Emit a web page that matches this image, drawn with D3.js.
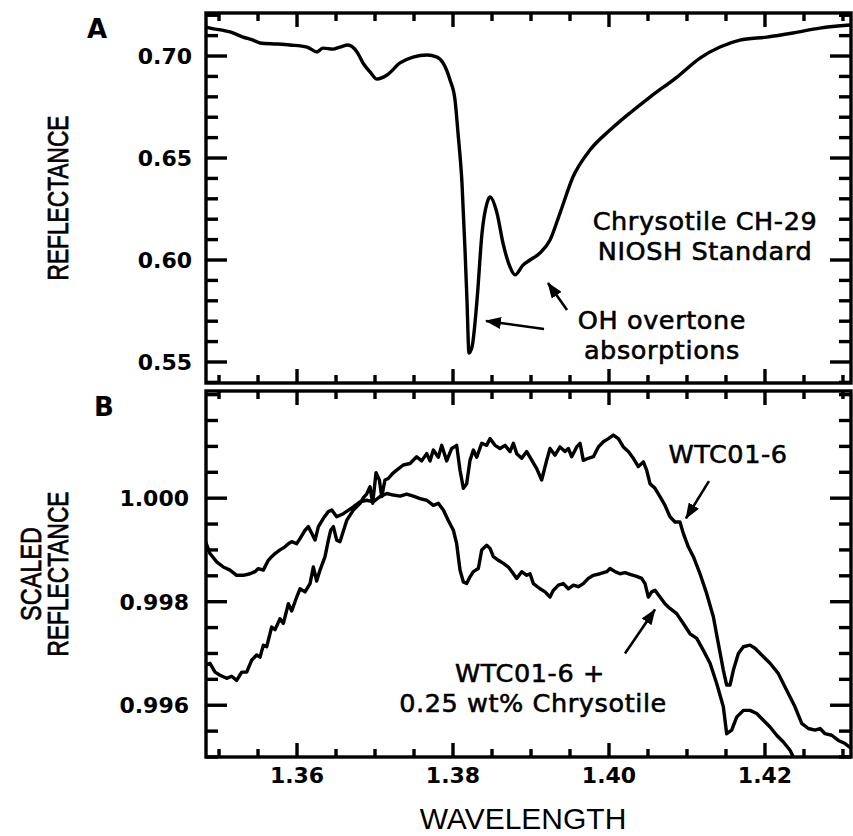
<!DOCTYPE html>
<html><head><meta charset="utf-8">
<script src="https://cdn.jsdelivr.net/npm/d3@7"></script>
<style>body{margin:0;background:#fff}</style>
</head><body>
<svg id="c" width="853" height="836"></svg>
<script>
// ---------- DATA ----------
// Panel A: Chrysotile CH-29 NIOSH standard reflectance [wavelength (µm), reflectance]
const chrysotileSpectrum = [
  [1.34833,0.7142],[1.34885,0.7137],[1.35141,0.7118],[1.35308,0.7093],[1.35436,0.7078],
  [1.35526,0.7064],[1.35744,0.7059],[1.35910,0.7054],[1.36128,0.7044],[1.36256,0.7020],
  [1.36333,0.7039],[1.36462,0.7034],[1.36551,0.7044],[1.36654,0.7054],[1.36769,0.7020],
  [1.36846,0.6966],[1.36936,0.6922],[1.37026,0.6887],[1.37154,0.6907],[1.37321,0.6966],
  [1.37487,0.6995],[1.37667,0.7005],[1.37795,0.6995],[1.37872,0.6966],[1.37962,0.6882],
  [1.38026,0.6784],[1.38064,0.6623],[1.38115,0.6378],[1.38154,0.6049],[1.38179,0.5804],
  [1.38205,0.5544],[1.38244,0.5574],[1.38308,0.5804],[1.38372,0.6132],[1.38436,0.6279],
  [1.38474,0.6309],[1.38564,0.6230],[1.38641,0.6083],[1.38731,0.5966],[1.38795,0.5927],
  [1.38897,0.5975],[1.38987,0.6000],[1.39115,0.6034],[1.39244,0.6098],[1.39372,0.6230],
  [1.39538,0.6407],[1.39756,0.6539],[1.40013,0.6637],[1.40269,0.6721],[1.40526,0.6799],
  [1.40872,0.6897],[1.41167,0.6990],[1.41423,0.7044],[1.41679,0.7078],[1.42026,0.7093],
  [1.42359,0.7113],[1.42705,0.7137],[1.43090,0.7152]
];
// Panel B: WTC01-6 scaled reflectance
const wtcSpectrum = [
  [1.34820,0.99677],[1.34884,0.99681],[1.34949,0.99664],[1.35013,0.99658],[1.35098,0.99652],
  [1.35162,0.99656],[1.35226,0.99648],[1.35291,0.99664],[1.35355,0.99664],[1.35419,0.99687],
  [1.35483,0.99697],[1.35526,0.99693],[1.35568,0.99716],[1.35611,0.99713],[1.35675,0.99751],
  [1.35718,0.99746],[1.35782,0.99767],[1.35825,0.99758],[1.35889,0.99796],[1.35932,0.99782],
  [1.35996,0.99809],[1.36038,0.99825],[1.36103,0.99819],[1.36167,0.99835],[1.36209,0.99867],
  [1.36252,0.99840],[1.36295,0.99861],[1.36359,0.99887],[1.36402,0.99919],[1.36432,0.99938],
  [1.36466,0.99945],[1.36509,0.99919],[1.36551,0.99916],[1.36637,0.99957],[1.36722,0.99977],
  [1.36808,0.99990],[1.36851,1.00001],[1.36893,1.00008],[1.36936,1.00022],[1.36970,0.99990],
  [1.37013,1.00049],[1.37056,1.00035],[1.37086,1.00003],[1.37128,1.00035],[1.37171,1.00038],
  [1.37227,1.00048],[1.37278,1.00054],[1.37363,1.00064],[1.37449,1.00067],[1.37534,1.00080],
  [1.37598,1.00072],[1.37663,1.00086],[1.37705,1.00072],[1.37748,1.00093],[1.37812,1.00079],
  [1.37855,1.00102],[1.37919,1.00072],[1.37983,1.00096],[1.38047,1.00102],[1.38090,1.00054],
  [1.38133,1.00019],[1.38175,1.00028],[1.38218,1.00073],[1.38261,1.00093],[1.38304,1.00079],
  [1.38368,1.00106],[1.38432,1.00102],[1.38475,1.00115],[1.38539,1.00102],[1.38603,1.00096],
  [1.38667,1.00102],[1.38731,1.00090],[1.38774,1.00106],[1.38817,1.00086],[1.38881,1.00077],
  [1.38945,1.00090],[1.39073,1.00057],[1.39137,1.00035],[1.39201,1.00073],[1.39244,1.00096],
  [1.39308,1.00083],[1.39372,1.00099],[1.39436,1.00090],[1.39479,1.00096],[1.39522,1.00080],
  [1.39586,1.00099],[1.39629,1.00106],[1.39671,1.00073],[1.39735,1.00077],[1.39800,1.00080],
  [1.39864,1.00099],[1.39928,1.00109],[1.39992,1.00115],[1.40056,1.00122],[1.40120,1.00115],
  [1.40184,1.00099],[1.40248,1.00090],[1.40312,1.00077],[1.40376,1.00061],[1.40441,1.00070],
  [1.40483,1.00054],[1.40526,1.00028],[1.40590,1.00019],[1.40654,1.00003],[1.40718,0.99986],
  [1.40782,0.99964],[1.40846,0.99954],[1.40910,0.99954],[1.40953,0.99932],[1.41017,0.99906],
  [1.41082,0.99887],[1.41167,0.99854],[1.41252,0.99816],[1.41338,0.99771],[1.41402,0.99719],
  [1.41466,0.99668],[1.41509,0.99639],[1.41552,0.99639],[1.41595,0.99668],[1.41659,0.99700],
  [1.41723,0.99713],[1.41808,0.99716],[1.41872,0.99710],[1.41958,0.99697],[1.42065,0.99681],
  [1.42172,0.99661],[1.42278,0.99629],[1.42385,0.99597],[1.42471,0.99565],[1.42556,0.99555],
  [1.42642,0.99552],[1.42706,0.99555],[1.42770,0.99545],[1.42856,0.99542],[1.42941,0.99532],
  [1.43027,0.99526],[1.43112,0.99516]
];
// Panel B: WTC01-6 + 0.25 wt% Chrysotile scaled reflectance
const mixSpectrum = [
  [1.34820,0.99919],[1.34884,0.99893],[1.34970,0.99877],[1.35055,0.99867],[1.35141,0.99861],
  [1.35226,0.99851],[1.35312,0.99851],[1.35397,0.99854],[1.35461,0.99858],[1.35504,0.99864],
  [1.35568,0.99861],[1.35632,0.99880],[1.35675,0.99887],[1.35718,0.99893],[1.35782,0.99900],
  [1.35846,0.99906],[1.35889,0.99912],[1.35932,0.99916],[1.35996,0.99912],[1.36038,0.99922],
  [1.36103,0.99938],[1.36145,0.99945],[1.36188,0.99932],[1.36231,0.99919],[1.36274,0.99945],
  [1.36338,0.99961],[1.36402,0.99974],[1.36445,0.99977],[1.36509,0.99964],[1.36594,0.99970],
  [1.36722,0.99983],[1.36808,0.99993],[1.36893,0.99996],[1.36979,0.99993],[1.37064,1.00003],
  [1.37150,1.00009],[1.37235,1.00006],[1.37321,1.00004],[1.37406,1.00008],[1.37492,1.00004],
  [1.37577,0.99999],[1.37663,0.99996],[1.37748,0.99986],[1.37812,0.99990],[1.37876,0.99977],
  [1.37940,0.99957],[1.38005,0.99938],[1.38047,0.99912],[1.38090,0.99861],[1.38133,0.99838],
  [1.38175,0.99835],[1.38218,0.99848],[1.38261,0.99858],[1.38325,0.99864],[1.38368,0.99900],
  [1.38432,0.99909],[1.38475,0.99903],[1.38517,0.99887],[1.38582,0.99880],[1.38646,0.99874],
  [1.38710,0.99867],[1.38774,0.99854],[1.38817,0.99845],[1.38881,0.99858],[1.38945,0.99851],
  [1.38988,0.99854],[1.39030,0.99835],[1.39116,0.99825],[1.39180,0.99819],[1.39244,0.99809],
  [1.39287,0.99822],[1.39351,0.99832],[1.39415,0.99835],[1.39479,0.99825],[1.39543,0.99832],
  [1.39607,0.99829],[1.39671,0.99835],[1.39735,0.99845],[1.39800,0.99851],[1.39885,0.99854],
  [1.39971,0.99858],[1.40013,0.99864],[1.40077,0.99858],[1.40141,0.99854],[1.40206,0.99856],
  [1.40270,0.99853],[1.40355,0.99849],[1.40419,0.99845],[1.40462,0.99835],[1.40505,0.99809],
  [1.40548,0.99819],[1.40590,0.99822],[1.40654,0.99809],[1.40718,0.99796],[1.40782,0.99787],
  [1.40868,0.99777],[1.40953,0.99758],[1.41039,0.99738],[1.41125,0.99729],[1.41210,0.99706],
  [1.41296,0.99681],[1.41381,0.99642],[1.41466,0.99597],[1.41509,0.99545],[1.41573,0.99552],
  [1.41637,0.99577],[1.41723,0.99590],[1.41808,0.99590],[1.41894,0.99584],[1.41979,0.99571],
  [1.42065,0.99558],[1.42150,0.99542],[1.42236,0.99529],[1.42321,0.99513],[1.42364,0.99500],
  [1.42450,0.99485]
];
// Tick values
const xMajorTicks = [1.36, 1.38, 1.40, 1.42];
const xMinorTicks = [1.35, 1.355, 1.365, 1.37, 1.375, 1.385, 1.39, 1.395, 1.405, 1.41, 1.415, 1.425, 1.43];
const aMajorTicks = [0.55, 0.60, 0.65, 0.70];
const aMinorTicks = [0.54, 0.56, 0.57, 0.58, 0.59, 0.61, 0.62, 0.63, 0.64, 0.66, 0.67, 0.68, 0.69, 0.71, 0.72];
const bMajorTicks = [0.996, 0.998, 1.000];
const bMinorTicks = [0.995, 0.9955, 0.9965, 0.997, 0.9975, 0.9985, 0.999, 0.9995, 1.0005, 1.001, 1.0015, 1.002];

// ---------- LAYOUT ----------
const left = 206, right = 851;
const aTop = 13, aBottom = 383, bTop = 391, bBottom = 757;
const svg = d3.select("#c");

const x = d3.scaleLinear().domain([1.34833, 1.43103]).range([left, right]);
const yA = d3.scaleLinear().domain([0.5397, 0.7211]).range([aBottom, aTop]);
const yB = d3.scaleLinear().domain([0.99500, 1.00207]).range([bBottom, bTop]);

const defs = svg.append("defs");
defs.append("clipPath").attr("id","clipA").append("rect")
  .attr("x",left).attr("y",aTop).attr("width",right-left).attr("height",aBottom-aTop);
defs.append("clipPath").attr("id","clipB").append("rect")
  .attr("x",left).attr("y",bTop).attr("width",right-left).attr("height",bBottom-bTop);
defs.append("marker").attr("id","arrow")
  .attr("markerUnits","userSpaceOnUse").attr("markerWidth",16).attr("markerHeight",12)
  .attr("refX",15).attr("refY",6).attr("orient","auto")
  .append("path").attr("d","M0,0 L16,6 L0,12 Z").attr("fill","#000");

const tickFont = "'DejaVu Sans', Verdana, sans-serif";
const TW = 3.4; // tick thickness

function panel(yScale, top, bottom, yMajor, yMinor, yFmt, labelRight, showX, clipId, series){
  const line = d3.line().x(d=>x(d[0])).y(d=>yScale(d[1]));
  series.forEach(s => {
    svg.append("path")
      .attr("clip-path", `url(#${clipId})`)
      .attr("d", line.curve(s.curve)(s.data))
      .attr("fill","none").attr("stroke","#000")
      .attr("stroke-width", 3.4).attr("stroke-linejoin","round");
  });
  svg.append("rect").attr("x",left).attr("y",top)
    .attr("width",right-left).attr("height",bottom-top)
    .attr("fill","none").attr("stroke","#000").attr("stroke-width",3.4);

  // tick marks as filled rectangles
  const xt = xMajorTicks.map(v => ({v, len: 14})).concat(xMinorTicks.map(v => ({v, len: 8})));
  const yt = yMajor.map(v => ({v, len: 21})).concat(yMinor.map(v => ({v, len: 12})));
  const tg = svg.append("g").attr("fill","#000");
  tg.selectAll("rect.xb").data(xt).join("rect").attr("class","xb")
    .attr("x", d => x(d.v) - TW/2).attr("y", d => bottom - d.len).attr("width", TW).attr("height", d => d.len);
  tg.selectAll("rect.xt").data(xt).join("rect").attr("class","xt")
    .attr("x", d => x(d.v) - TW/2).attr("y", top).attr("width", TW).attr("height", d => d.len);
  tg.selectAll("rect.yl").data(yt).join("rect").attr("class","yl")
    .attr("x", left).attr("y", d => yScale(d.v) - TW/2).attr("width", d => d.len).attr("height", TW);
  tg.selectAll("rect.yr").data(yt).join("rect").attr("class","yr")
    .attr("x", d => right - d.len).attr("y", d => yScale(d.v) - TW/2).attr("width", d => d.len).attr("height", TW);

  const fmt = d3.format(yFmt);
  svg.append("g").selectAll("text").data(yMajor).join("text")
    .attr("x", labelRight).attr("y", d => yScale(d)).attr("dy","0.36em")
    .attr("text-anchor","end").attr("font-family",tickFont).attr("font-weight","bold")
    .attr("font-size",22).attr("fill","#000").text(d => fmt(d));
  if (showX) {
    const xf = d3.format(".2f");
    svg.append("g").selectAll("text").data(xMajorTicks).join("text")
      .attr("x", d => x(d)).attr("y", bottom + 26)
      .attr("text-anchor","middle").attr("font-family",tickFont).attr("font-weight","bold")
      .attr("font-size",22).attr("fill","#000").text(d => xf(d));
  }
}

panel(yA, aTop, aBottom, aMajorTicks, aMinorTicks, ".2f", 192, false, "clipA",
  [{data: chrysotileSpectrum, curve: d3.curveMonotoneX}]);
panel(yB, bTop, bBottom, bMajorTicks, bMinorTicks, ".3f", 189, true, "clipB",
  [{data: wtcSpectrum, curve: d3.curveLinear}, {data: mixSpectrum, curve: d3.curveLinear}]);

// ---------- TEXT ----------
const annFont = "'DejaVu Sans', Verdana, sans-serif";
function label(txt, px, py, opts={}){
  svg.append("text").attr("x",px).attr("y",py).text(txt)
    .attr("font-family", opts.family || annFont)
    .attr("font-size", opts.size || 25.5)
    .attr("font-weight", opts.weight || "normal")
    .attr("letter-spacing", opts.ls || 0)
    .attr("text-anchor", opts.anchor || "middle")
    .attr("fill","#000")
    .attr("stroke", opts.stroke ? "#000" : "none")
    .attr("stroke-width", opts.stroke || 0);
}
function arrow(x1,y1,x2,y2){
  svg.append("line").attr("x1",x1).attr("y1",y1).attr("x2",x2).attr("y2",y2)
    .attr("stroke","#000").attr("stroke-width",2.6).attr("marker-end","url(#arrow)");
}
const ann = {stroke:0.6, ls:0.6};

// Panel A annotations (anchored in data units)
label("Chrysotile CH-29", x(1.41231), yA(0.6147), ann);
label("NIOSH Standard",  x(1.41231), yA(0.6000), ann);
label("OH overtone",     x(1.40679), yA(0.5660), ann);
label("absorptions",     x(1.40679), yA(0.5513), ann);
arrow(x(1.39167), yA(0.56618), x(1.38423), yA(0.57010));
arrow(x(1.39462), yA(0.57549), x(1.39218), yA(0.58873));

// Panel B annotations
label("WTC01-6", x(1.41526), yB(1.00068), ann);
label("WTC01-6 +", x(1.38987), yB(0.99645), ann);
label("0.25 wt% Chrysotile", x(1.39026), yB(0.99587), ann);
arrow(x(1.41282), yB(1.00033), x(1.40987), yB(0.99961));
arrow(x(1.40205), yB(0.99700), x(1.40590), yB(0.99785));

// Panel letters
label("A", 97, 38, {weight:"bold", size:26});
label("B", 104, 416, {weight:"bold", size:26});

// Axis titles
const titleFont = "'Liberation Sans Narrow', 'Liberation Sans', Arial, sans-serif";
function vtitle(txt, cx, cy, len){
  svg.append("text").attr("transform",`translate(${cx},${cy}) rotate(-90)`)
    .attr("text-anchor","middle").attr("font-family",titleFont).attr("font-size",29)
    .attr("textLength",len).attr("lengthAdjust","spacingAndGlyphs")
    .attr("stroke","#000").attr("stroke-width",0.7)
    .attr("fill","#000").text(txt);
}
vtitle("REFLECTANCE", 68, (aTop+aBottom)/2, 165);
vtitle("SCALED", 41, (bTop+bBottom)/2, 94);
vtitle("REFLECTANCE", 68, (bTop+bBottom)/2, 165);

svg.append("text").attr("x", 523).attr("y", 829).attr("text-anchor","middle")
  .attr("font-family","'Liberation Sans', Arial, sans-serif").attr("font-size",30)
  .attr("fill","#000").text("WAVELENGTH");
</script>
</body></html>
